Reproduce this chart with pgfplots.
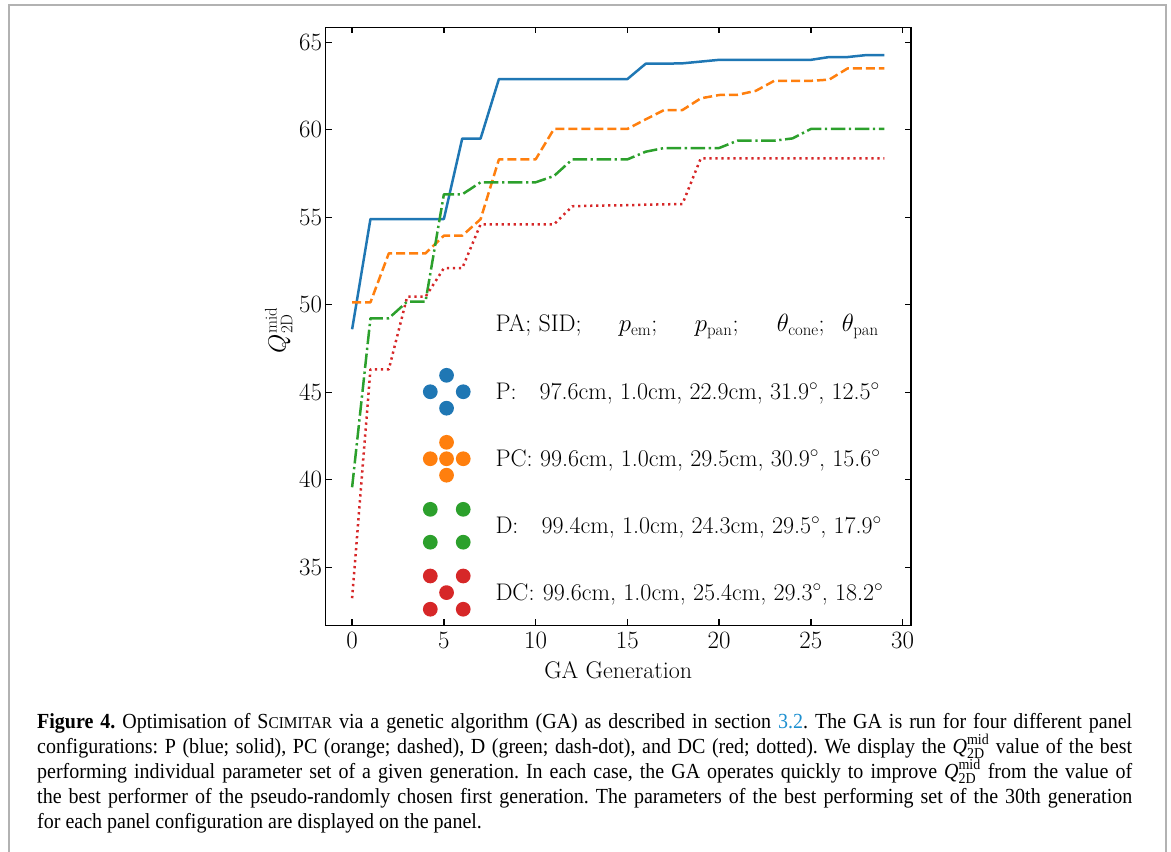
\documentclass[border=0pt]{standalone}
\usepackage{amsmath}
\usepackage{fontspec}
\usepackage{pgfplots}
\pgfplotsset{compat=1.18}
\usepackage{pgfplotstable}

\newfontfamily\capfont[FakeStretch=0.93]{Liberation Serif}
\newcommand{\bigfont}{\fontsize{24}{29}\selectfont}

\definecolor{tabblue}{HTML}{1F77B4}
\definecolor{taborange}{HTML}{FF7F0E}
\definecolor{tabgreen}{HTML}{2CA02C}
\definecolor{tabred}{HTML}{D62728}
\definecolor{linkblue}{HTML}{1E90D0}

% best Q per generation for each panel configuration
\pgfplotstableread{
gen P PC D DC
0  48.60 50.14 39.57 33.23
1  54.90 50.14 49.23 46.31
2  54.90 52.94 49.23 46.31
3  54.90 52.94 50.18 50.46
4  54.90 52.94 50.18 50.46
5  54.90 53.95 56.31 52.09
6  59.50 53.95 56.31 52.09
7  59.50 54.89 57.00 54.60
8  62.90 58.31 57.00 54.60
9  62.90 58.31 57.00 54.60
10 62.90 58.31 57.00 54.60
11 62.90 60.05 57.36 54.60
12 62.90 60.05 58.31 55.63
13 62.90 60.05 58.31 55.66
14 62.90 60.05 58.31 55.68
15 62.90 60.05 58.31 55.69
16 63.78 60.60 58.75 55.72
17 63.78 61.13 58.96 55.74
18 63.80 61.13 58.96 55.76
19 63.90 61.80 58.96 58.37
20 64.00 61.99 58.96 58.37
21 64.00 62.00 59.38 58.37
22 64.00 62.23 59.38 58.37
23 64.00 62.80 59.38 58.37
24 64.00 62.80 59.51 58.37
25 64.00 62.80 60.05 58.37
26 64.16 62.87 60.05 58.37
27 64.16 63.51 60.05 58.37
28 64.27 63.51 60.05 58.37
29 64.27 63.51 60.05 58.37
}\gatable

\begin{document}
\frenchspacing
\begin{tikzpicture}[x=1pt,y=1pt]
\useasboundingbox (0,0) rectangle (1171,852);
% page frame
\draw[gray!60, line width=1.6pt] (9,0) -- (9,847) -- (1166,847) -- (1166,0);

\begin{axis}[
  at={(325.5pt,226.5pt)}, anchor=south west,
  width=585.4pt, height=598.2pt, scale only axis,
  xmin=-1.45, xmax=30.45, ymin=31.67, ymax=65.86,
  xtick={0,5,...,30}, ytick={35,40,...,65},
  tick align=inside, major tick length=6pt,
  every tick/.style={black, line width=1.3pt},
  axis line style={line width=1.4pt},
  ticklabel style={font=\bigfont},
  xticklabel style={yshift=-3pt},
  label style={font=\bigfont},
  xlabel={GA Generation},
  xlabel style={yshift=-7pt},
  ylabel={$Q^{\mathrm{mid}}_{\mathrm{2D}}$},
  ylabel style={xshift=-4pt},
  every axis plot/.append style={line width=2.5pt, line join=round, line cap=butt},
]
\addplot[tabblue] table[x=gen,y=P] {\gatable};
\addplot[taborange, dash pattern=on 9pt off 4pt] table[x=gen,y=PC] {\gatable};
\addplot[tabgreen, dash pattern=on 14.5pt off 3.6pt on 2.3pt off 3.6pt] table[x=gen,y=D] {\gatable};
\addplot[tabred, dash pattern=on 2.3pt off 3.7pt] table[x=gen,y=DC] {\gatable};

% panel layout icons
\addplot[only marks, mark=*, mark size=6.1pt, tabblue, mark options={draw=none, fill=tabblue}]
  coordinates {(5.147,45.97) (4.26,45.03) (6.055,45.03) (5.147,44.09)};
\addplot[only marks, mark=*, mark size=6.1pt, taborange, mark options={draw=none, fill=taborange}]
  coordinates {(5.147,42.14) (4.26,41.2) (5.147,41.2) (6.055,41.2) (5.147,40.26)};
\addplot[only marks, mark=*, mark size=6.1pt, tabgreen, mark options={draw=none, fill=tabgreen}]
  coordinates {(4.26,38.31) (6.055,38.31) (4.26,36.43) (6.055,36.43)};
\addplot[only marks, mark=*, mark size=6.1pt, tabred, mark options={draw=none, fill=tabred}]
  coordinates {(4.26,34.5) (6.055,34.5) (5.147,33.55) (4.26,32.6) (6.055,32.6)};
\end{axis}

% parameter table
\begin{scope}[every node/.style={anchor=base west, inner sep=0pt, font=\bigfont}]
\node at (495.3,520.3) {PA; SID;};
\node at (618.7,520.3) {$p_{\mathrm{em}}$;};
\node at (694.7,520.3) {$p_{\mathrm{pan}}$;};
\node at (776.7,520.3) {$\theta_{\mathrm{cone}}$;};
\node at (841.7,520.3) {$\theta_{\mathrm{pan}}$};
\node at (495.3,452) {P:};
\node at (539.3,452) {97.6cm, 1.0cm, 22.9cm, 31.9$^\circ$, 12.5$^\circ$};
\node at (495.3,385.3) {PC:};
\node at (540,385.3) {99.6cm, 1.0cm, 29.5cm, 30.9$^\circ$, 15.6$^\circ$};
\node at (495.3,318.7) {D:};
\node at (541.3,318.7) {99.4cm, 1.0cm, 24.3cm, 29.5$^\circ$, 17.9$^\circ$};
\node at (495.3,251.3) {DC:};
\node at (542.7,251.3) {99.6cm, 1.0cm, 25.4cm, 29.3$^\circ$, 18.2$^\circ$};
\end{scope}

% caption
\newcommand{\Qmid}{\smash{$\textit{Q}^{\text{mid}}_{\text{2D}}$}}
\begin{scope}[every node/.style={anchor=base west, inner sep=0pt, font=\capfont\fontsize{21.5}{25}\selectfont}]
\node at (37,123.5) {\hbox to 1095pt{\textbf{Figure 4.} Optimisation of S{\fontsize{16.5}{25}\selectfont CIMITAR} via a genetic algorithm (GA) as described in section {\color{linkblue}3.2}. The GA is run for four different panel}};
\node at (37,98.5) {\hbox to 1095pt{configurations: P (blue; solid), PC (orange; dashed), D (green; dash-dot), and DC (red; dotted). We display the \Qmid{} value of the best}};
\node at (37,73.5) {\hbox to 1095pt{performing individual parameter set of a given generation. In each case, the GA operates quickly to improve \Qmid{} from the value of}};
\node at (37,48.5) {\hbox to 1095pt{the best performer of the pseudo-randomly chosen first generation. The parameters of the best performing set of the 30th generation}};
\node at (37,23.5) {for each panel configuration are displayed on the panel.};
\end{scope}
\end{tikzpicture}
\end{document}
